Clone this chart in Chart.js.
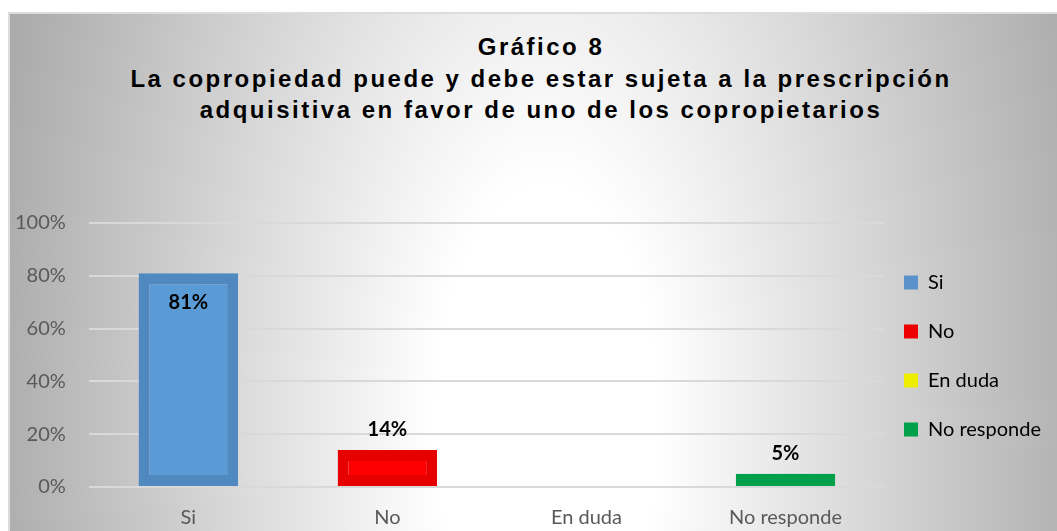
<!DOCTYPE html>
<html>
<head>
<meta charset="utf-8">
<script src="https://cdn.jsdelivr.net/npm/chart.js@4/dist/chart.umd.min.js"></script>
<style>
  html, body { margin: 0; padding: 0; background: #fff; }
  #box {
    position: absolute; left: 8px; top: 12px; width: 1047px; height: 517px;
    border-top: 2px solid #dcdcdc; border-left: 2px solid #dcdcdc;
    background: radial-gradient(ellipse 560px 1186px at 537px 408px, #ffffff 0%, #ffffff 20%, #ababab 100%);
  }
  #title {
    position: absolute; left: 0; top: 31px; width: 1082px; text-align: center;
    font: bold 24px "Liberation Sans", Arial, sans-serif; line-height: 31.5px;
    letter-spacing: 2.5px; color: #000;
  }
  #chart { position: absolute; left: 0; top: 0; }
</style>
</head>
<body>
<div id="box"></div>
<div id="title">Gráfico 8<br>La copropiedad puede y debe estar sujeta a la prescripción<br>adquisitiva en favor de uno de los copropietarios</div>
<canvas id="chart" width="1057" height="531"></canvas>
<script>
// Data
const categories = ['Si', 'No', 'En duda', 'No responde'];
const percents = [81, 14, 0, 5];
const yTicks = [0, 20, 40, 60, 80, 100];

// Colors per category
const fillColors = ['#5b9bd5', '#ff0000', '#ffff00', '#00a04b'];
const edgeColors = ['#4f89c0', '#e60000', '#e6e600', '#00a04b'];
const legendColors = ['#5a92cc', '#ee0000', '#eeee00', '#00a04b'];

const FONT = 'Lato, "Open Sans", sans-serif';

// Value labels: big bars get it inside the top, small ones above
const valueLabels = {
  id: 'valueLabels',
  afterDatasetsDraw(chart) {
    const ctx = chart.ctx;
    const meta = chart.getDatasetMeta(0);
    ctx.save();
    ctx.font = 'bold 20px ' + FONT;
    ctx.fillStyle = '#000';
    ctx.textAlign = 'center';
    ctx.textBaseline = 'middle';
    meta.data.forEach((bar, i) => {
      const v = percents[i];
      if (!v) return;
      const y = v > 50 ? bar.y + 29 : bar.y - 20;
      ctx.fillText(v + '%', bar.x, y);
    });
    ctx.restore();
  }
};

// nudge legend closer to the plot and up a bit
const legendShift = {
  id: 'legendShift',
  afterLayout(chart) {
    const lg = chart.legend;
    if (!lg) return;
    lg.left -= 10; lg.right -= 10;
    lg.top -= 30; lg.bottom -= 30;
  }
};

new Chart(document.getElementById('chart'), {
  type: 'bar',
  data: {
    labels: categories,
    datasets: [{
      data: percents,
      backgroundColor: fillColors,
      borderColor: edgeColors,
      borderWidth: 11,
      borderSkipped: false,
      barPercentage: 0.5,
      categoryPercentage: 1
    }]
  },
  options: {
    responsive: false,
    animation: false,
    layout: { padding: { top: 223, left: -8, right: -4, bottom: -18 } },
    plugins: {
      title: { display: false },
      tooltip: { enabled: false },
      legend: {
        position: 'right',
        align: 'center',
        labels: {
          boxWidth: 14,
          boxHeight: 14,
          padding: 29,
          color: '#595959',
          font: { family: FONT, size: 20 },
          generateLabels: () => categories.map((c, i) => ({
            text: c,
            fillStyle: legendColors[i],
            strokeStyle: legendColors[i],
            lineWidth: 0,
            hidden: false,
            index: i
          }))
        }
      }
    },
    scales: {
      x: {
        grid: { display: false, drawTicks: false },
        border: { display: false },
        ticks: { color: '#595959', font: { family: FONT, size: 20 }, padding: 19, maxRotation: 0, autoSkip: false }
      },
      y: {
        min: 0,
        max: 100,
        afterBuildTicks: axis => { axis.ticks = yTicks.map(v => ({ value: v })); },
        grid: { color: '#d9d9d9', lineWidth: 2, drawTicks: false },
        border: { display: false },
        ticks: {
          color: '#595959',
          font: { family: FONT, size: 20 },
          padding: 23,
          callback: v => v + '%'
        }
      }
    }
  },
  plugins: [valueLabels, legendShift]
});
</script>
</body>
</html>
